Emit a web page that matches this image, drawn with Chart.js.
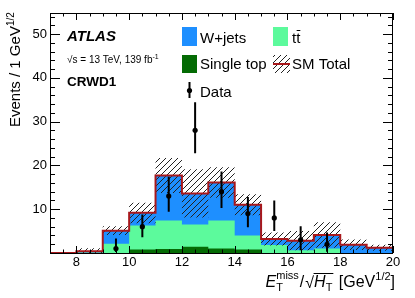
<!DOCTYPE html>
<html>
<head>
<meta charset="utf-8">
<script src="https://cdn.jsdelivr.net/npm/chart.js@4.4.0/dist/chart.umd.min.js"></script>
<style>
  html, body { margin: 0; padding: 0; background: #fff; }
  #wrap { width: 415px; height: 298px; }
</style>
</head>
<body>
<div id="wrap"><canvas id="chart" width="415" height="298"></canvas></div>
<script>
// bins of Etmiss/sqrt(HT), width 1 GeV^1/2
const binEdges = [7, 8, 9, 10, 11, 12, 13, 14, 15, 16, 17, 18, 19, 20];
// background contributions per bin (stacked)
const singleTop = [0, 0, 0, 0.8, 0.9, 1.4, 1.0, 0.8, 0, 0, 0, 0, 0];
const ttbar     = [0, 0.1, 2.1, 5.5, 6.5, 5.1, 6.4, 3.2, 1.8, 0.6, 1.0, 0, 0];
const wjets     = [0, 0.3, 3.0, 2.9, 10.3, 7.1, 8.7, 7.0, 1.4, 2.2, 3.1, 1.9, 1.2];
// SM total uncertainty band edges
const uncUp   = [0, 1.1, 6.1, 11.5, 21.7, 19.1, 19.6, 13.4, 4.7, 5.0, 7.0, 3.1, 1.9];
const uncDown = [0, 0, 4.1, 6.8, 13.7, 8.1, 12.6, 8.6, 1.7, 0.6, 1.2, 0.7, 0.5];
// data
const dataX     = [9.5, 10.5, 11.5, 12.5, 13.5, 14.5, 15.5, 16.5, 17.5];
const dataY     = [1, 6, 13, 28, 14, 9, 8, 3, 2];
const dataErrLo = [0.2, 3.6, 9.4, 22.8, 10.3, 5.9, 5.0, 0.6, 0.3];
const dataErrHi = [3.3, 8.8, 17.4, 34.4, 18.6, 12.8, 12.0, 6.1, 4.7];
// axis labels
const xTickLabels = [8, 10, 12, 14, 16, 18, 20];
const yTickLabels = [10, 20, 30, 40, 50];

const FONT = '"Liberation Sans", Arial, Helvetica, sans-serif';
const colWjets = '#1e8fff';
const colTtbar = '#5cfa9c';
const colSingle = '#046b04';
const colTotal = '#a8181c';

// stepped histogram points at bin edges
function histPoints(vals) {
  return binEdges.map((e, i) => ({ x: e, y: vals[Math.min(i, vals.length - 1)] }));
}
const cumST = singleTop.slice();
const cumTT = ttbar.map((v, i) => v + cumST[i]);
const cumAll = wjets.map((v, i) => v + cumTT[i]);

const errPts = [];
dataX.forEach((x, i) => {
  errPts.push({ x: x, y: dataErrLo[i] }, { x: x, y: dataErrHi[i] }, { x: x, y: null });
});

function makeHatch() {
  const s = 6;
  const c = document.createElement('canvas');
  c.width = s; c.height = s;
  const g = c.getContext('2d');
  g.strokeStyle = '#222';
  g.lineWidth = 1;
  g.beginPath();
  g.moveTo(0, s); g.lineTo(s, 0);
  g.moveTo(-1, 1); g.lineTo(1, -1);
  g.moveTo(s - 1, s + 1); g.lineTo(s + 1, s - 1);
  g.stroke();
  return g.createPattern(c, 'repeat');
}
const hatch = makeHatch();

function drawParts(ctx, x, y, parts) {
  let cx = x;
  parts.forEach(p => {
    ctx.font = p.f;
    ctx.fillText(p.t, cx, y + (p.dy || 0));
    cx += ctx.measureText(p.t).width + (p.gap || 0);
  });
  return cx;
}
function partsWidth(ctx, parts) {
  let w = 0;
  parts.forEach(p => { ctx.font = p.f; w += ctx.measureText(p.t).width + (p.gap || 0); });
  return w;
}

const decorations = {
  id: 'decorations',
  afterDraw(chart) {
    const ctx = chart.ctx;
    const xa = chart.scales.x, ya = chart.scales.y;
    const { left, right, top, bottom } = chart.chartArea;
    ctx.save();
    // frame
    ctx.strokeStyle = '#000';
    ctx.lineWidth = 1;
    ctx.strokeRect(left + 0.5, top + 0.5, right - left - 1, bottom - top);
    // x ticks (bottom and top)
    ctx.beginPath();
    for (let v = 7; v <= 20.001; v += 0.5) {
      const px = Math.round(xa.getPixelForValue(v)) + 0.5;
      const len = (v % 2 === 0) ? 7 : 3.5;
      ctx.moveTo(px, bottom); ctx.lineTo(px, bottom - len);
      ctx.moveTo(px, top); ctx.lineTo(px, top + len);
    }
    // y ticks (left and right)
    for (let v = 0; v <= ya.max; v += 2) {
      const py = Math.round(ya.getPixelForValue(v)) + 0.5;
      const len = (v % 10 === 0) ? 10 : 5;
      ctx.moveTo(left, py); ctx.lineTo(left + len, py);
      ctx.moveTo(right, py); ctx.lineTo(right - len, py);
    }
    ctx.stroke();

    ctx.fillStyle = '#000';
    ctx.textBaseline = 'alphabetic';
    ctx.textAlign = 'left';
    // ATLAS label
    ctx.font = 'italic bold 15px ' + FONT;
    ctx.fillText('ATLAS', 67, 41);
    drawParts(ctx, 67, 63, [
      { t: '\u221As', f: '10px ' + FONT },
      { t: ' = 13 TeV, 139 fb', f: '10px ' + FONT },
      { t: '-1', f: '7px ' + FONT, dy: -4 }
    ]);
    ctx.font = 'bold 13.5px ' + FONT;
    ctx.fillText('CRWD1', 67, 86);

    // legend
    ctx.fillStyle = colWjets; ctx.fillRect(182, 27, 15, 19);
    ctx.fillStyle = colTtbar; ctx.fillRect(273, 27, 15, 19);
    ctx.fillStyle = colSingle; ctx.fillRect(182, 55, 15, 18);
    ctx.fillStyle = hatch; ctx.fillRect(273, 55, 17, 18);
    ctx.strokeStyle = colTotal; ctx.lineWidth = 2;
    ctx.beginPath(); ctx.moveTo(273, 64); ctx.lineTo(290, 64); ctx.stroke();
    ctx.strokeStyle = '#000'; ctx.lineWidth = 2;
    ctx.beginPath(); ctx.moveTo(189.5, 82); ctx.lineTo(189.5, 98); ctx.stroke();
    ctx.fillStyle = '#000';
    ctx.beginPath(); ctx.arc(189.5, 90.5, 2.6, 0, Math.PI * 2); ctx.fill();
    ctx.font = '15px ' + FONT;
    ctx.fillText('W+jets', 200, 43);
    ctx.fillText('Single top', 200, 68.5);
    ctx.fillText('SM Total', 292, 68.5);
    ctx.fillText('Data', 200, 96.5);
    ctx.fillText('tt', 292, 43);
    const tW = ctx.measureText('t').width;
    ctx.lineWidth = 1;
    ctx.beginPath(); ctx.moveTo(292 + tW + 0.5, 30.5); ctx.lineTo(292 + 2 * tW, 30.5); ctx.stroke();

    // x axis title
    const it = 'italic 16px ' + FONT, rm = '16px ' + FONT, sm = '11px ' + FONT;
    ctx.font = it; const wE = ctx.measureText('E').width;
    ctx.font = sm; const wMiss = ctx.measureText('miss').width;
    const partsA = [{ t: '/', f: rm, gap: 1 }];
    const partsH = [{ t: 'H', f: it }, { t: 'T', f: sm, dy: 4 }];
    const partsC = [{ t: ' [GeV', f: rm }, { t: '1/2', f: sm, dy: -7 }, { t: ']', f: rm }];
    ctx.font = rm; const wSq = ctx.measureText('\u221A').width;
    const total = wE + wMiss + 1 + partsWidth(ctx, partsA) + wSq + partsWidth(ctx, partsH) + 2 + partsWidth(ctx, partsC);
    let cx = 395 - total;
    const by = 287;
    ctx.font = it; ctx.fillText('E', cx, by); cx += wE;
    ctx.font = sm; ctx.fillText('miss', cx, by - 8); ctx.fillText('T', cx, by + 4); cx += wMiss + 1;
    cx = drawParts(ctx, cx, by, partsA);
    ctx.font = rm; ctx.fillText('\u221A', cx, by + 1); cx += wSq;
    const hStart = cx;
    cx = drawParts(ctx, cx, by, partsH);
    ctx.lineWidth = 1;
    ctx.beginPath(); ctx.moveTo(hStart - 0.5, by - 13.5); ctx.lineTo(cx + 1, by - 13.5); ctx.stroke();
    cx += 2;
    drawParts(ctx, cx, by, partsC);

    // y axis title
    ctx.translate(19.5, 127);
    ctx.rotate(-Math.PI / 2);
    drawParts(ctx, 0, 0, [
      { t: 'Events / 1 GeV', f: '15px ' + FONT },
      { t: '1/2', f: '10px ' + FONT, dy: -6 }
    ]);
    ctx.restore();
  }
};

new Chart(document.getElementById('chart'), {
  type: 'line',
  data: {
    datasets: [
      { data: histPoints(cumAll), stepped: 'before', fill: 'origin', backgroundColor: colWjets, borderWidth: 0, pointRadius: 0, order: 10 },
      { data: histPoints(cumTT), stepped: 'before', fill: 'origin', backgroundColor: colTtbar, borderWidth: 0, pointRadius: 0, order: 9 },
      { data: histPoints(cumST), stepped: 'before', fill: 'origin', backgroundColor: colSingle, borderWidth: 0, pointRadius: 0, order: 8 },
      { data: histPoints(uncDown), stepped: 'before', fill: false, borderWidth: 0, pointRadius: 0, order: 7 },
      { data: histPoints(uncUp), stepped: 'before', fill: 3, backgroundColor: hatch, borderWidth: 0, pointRadius: 0, order: 6 },
      { data: histPoints(cumAll), stepped: 'before', fill: false, borderColor: colTotal, borderWidth: 2, pointRadius: 0, order: 5, clip: 3 },
      { data: errPts, fill: false, borderColor: '#000', borderWidth: 2, pointRadius: 0, spanGaps: false, order: 2 },
      { data: dataX.map((x, i) => ({ x: x, y: dataY[i] })), showLine: false, pointRadius: 2.6, pointBackgroundColor: '#000', pointBorderWidth: 0, order: 1 }
    ]
  },
  options: {
    responsive: false,
    animation: false,
    devicePixelRatio: 1,
    layout: { padding: { top: 13, right: 22, left: 0, bottom: 0 } },
    plugins: { legend: { display: false }, tooltip: { enabled: false } },
    scales: {
      x: {
        type: 'linear', min: 7, max: 20,
        grid: { display: false, drawTicks: false },
        border: { display: false },
        ticks: {
          stepSize: 2, autoSkip: false, maxRotation: 0, padding: 2, color: '#000',
          font: { family: FONT, size: 13 },
          callback: v => xTickLabels.includes(v) ? String(v) : ''
        },
        afterFit(s) { s.height = 45; }
      },
      y: {
        min: 0, max: 54.8,
        grid: { display: false, drawTicks: false },
        border: { display: false },
        ticks: {
          stepSize: 10, padding: 3, color: '#000',
          font: { family: FONT, size: 13 },
          callback: v => yTickLabels.includes(v) ? String(v) : ''
        },
        afterFit(s) { s.width = 50; }
      }
    }
  },
  plugins: [decorations]
});
</script>
</body>
</html>
